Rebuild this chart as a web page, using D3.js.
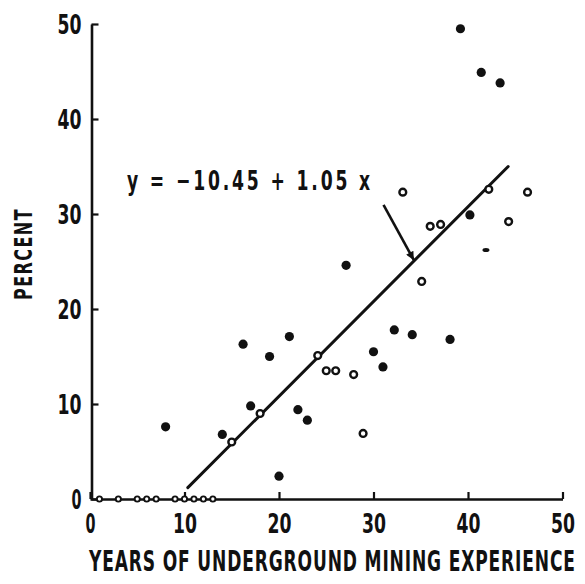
<!DOCTYPE html>
<html><head><meta charset="utf-8">
<script src="https://cdn.jsdelivr.net/npm/d3@7"></script>
<style>
html,body{margin:0;padding:0;background:#fff;}
svg{display:block;}
text{font-family:"Liberation Sans Narrow","DejaVu Sans Condensed",sans-serif;font-weight:bold;fill:#111;}
</style></head>
<body>
<script>
// ---- data ----
const xTicks = [0, 10, 20, 30, 40, 50];
const yTicks = [0, 10, 20, 30, 40, 50];
const zeroYears = [1, 3, 5, 6, 7, 9, 10, 11, 12, 13];
const zeroPercent = [0, 0, 0, 0, 0, 0, 0, 0, 0, 0];
const filledYears = [8, 14, 17, 20, 22, 23, 16.2, 21.1, 19, 27.1, 30, 31, 32.2, 34.1, 38.1, 40.2, 39.2, 41.4, 43.4];
const filledPercent = [7.6, 6.8, 9.8, 2.4, 9.4, 8.3, 16.3, 17.1, 15.0, 24.6, 15.5, 13.9, 17.8, 17.3, 16.8, 29.9, 49.5, 44.9, 43.8];
const openYears = [15, 18, 24.1, 25, 26, 27.9, 28.9, 33.1, 35.1, 36, 37.1, 42.2, 44.3, 46.3];
const openPercent = [6.0, 9.0, 15.1, 13.5, 13.5, 13.1, 6.9, 32.3, 22.9, 28.7, 28.9, 32.6, 29.2, 32.3];
const minorYears = [41.9];
const minorPercent = [26.2];
const fitYears = [10.35, 44.25];
const fitPercent = [1.2, 35.0];
const arrowYears = [31.06, 34.26];
const arrowPercent = [30.95, 25.16];
const equationText = "y = \u221210.45 + 1.05 x";
const xTitle = "YEARS OF UNDERGROUND MINING EXPERIENCE";
const yTitle = "PERCENT";

// ---- chart ----
const W = 585, H = 584;
const svg = d3.select("body").append("svg").attr("width", W).attr("height", H);
const x = d3.scaleLinear().domain([0, 50]).range([90, 562.5]);
const y = d3.scaleLinear().domain([0, 50]).range([499, 24]);
const labelWidth = s => s.length === 1 ? 10 : 24;

// x axis
const gx = svg.append("g").attr("transform", `translate(0,${y(0)})`)
  .call(d3.axisBottom(x).tickValues(xTicks).tickSizeInner(-7).tickSizeOuter(0).tickPadding(0));
gx.select(".domain").attr("stroke", "#111").attr("stroke-width", 2.6);
gx.selectAll(".tick line").attr("stroke", "#111").attr("stroke-width", 2.2);
gx.selectAll(".tick text").attr("font-size", 26).attr("y", 34).attr("dy", 0)
  .attr("font-family", null)
  .attr("textLength", d => labelWidth(String(d))).attr("lengthAdjust", "spacingAndGlyphs");

// y axis
const gy = svg.append("g").attr("transform", `translate(${x(0) + 1.5},0)`)
  .call(d3.axisLeft(y).tickValues(yTicks).tickSizeInner(-7).tickSizeOuter(0).tickPadding(0));
gy.select(".domain").attr("stroke", "#111").attr("stroke-width", 2.6);
gy.selectAll(".tick line").attr("stroke", "#111").attr("stroke-width", 2.2);
gy.selectAll(".tick text").attr("font-size", 26).attr("x", -10).attr("dy", "0.36em")
  .attr("font-family", null)
  .attr("textLength", d => labelWidth(String(d))).attr("lengthAdjust", "spacingAndGlyphs");

// axis titles
svg.append("text").attr("transform", "translate(89,571) scale(1,1.45)")
  .attr("font-size", 19)
  .attr("textLength", 486).attr("lengthAdjust", "spacing").text(xTitle);
svg.append("text").attr("transform", "translate(32,254) rotate(-90)")
  .attr("text-anchor", "middle").attr("font-size", 25).attr("letter-spacing", 2)
  .attr("textLength", 92).attr("lengthAdjust", "spacingAndGlyphs").text(yTitle);

// regression line
svg.append("line")
  .attr("x1", x(fitYears[0])).attr("y1", y(fitPercent[0]))
  .attr("x2", x(fitYears[1])).attr("y2", y(fitPercent[1]))
  .attr("stroke", "#111").attr("stroke-width", 3).attr("stroke-linecap", "round");

// equation + arrow
svg.append("text").attr("x", 127).attr("y", 190).attr("font-size", 27)
  .attr("letter-spacing", 4)
  .attr("textLength", 246).attr("lengthAdjust", "spacingAndGlyphs").text(equationText);
svg.append("defs").append("marker").attr("id", "ah")
  .attr("viewBox", "0 0 10 10").attr("refX", 10).attr("refY", 5)
  .attr("markerWidth", 6).attr("markerHeight", 3.2).attr("orient", "auto")
  .attr("markerUnits", "strokeWidth")
  .append("path").attr("d", "M0,0 L10,5 L0,10 Z").attr("fill", "#111");
svg.append("line")
  .attr("x1", x(arrowYears[0])).attr("y1", y(arrowPercent[0]))
  .attr("x2", x(arrowYears[1])).attr("y2", y(arrowPercent[1]))
  .attr("stroke", "#111").attr("stroke-width", 2.6).attr("marker-end", "url(#ah)");

// points
const zeroPts = zeroYears.map((d, i) => [d, zeroPercent[i]]);
svg.append("g").selectAll("circle").data(zeroPts).join("circle")
  .attr("cx", d => x(d[0])).attr("cy", d => y(d[1]))
  .attr("r", 2.6).attr("fill", "#fff").attr("stroke", "#111").attr("stroke-width", 1.9);

const filledPts = filledYears.map((d, i) => [d, filledPercent[i]]);
svg.append("g").selectAll("circle").data(filledPts).join("circle")
  .attr("cx", d => x(d[0])).attr("cy", d => y(d[1]))
  .attr("r", 4.6).attr("fill", "#111");

const openPts = openYears.map((d, i) => [d, openPercent[i]]);
svg.append("g").selectAll("circle").data(openPts).join("circle")
  .attr("cx", d => x(d[0])).attr("cy", d => y(d[1]))
  .attr("r", 3.4).attr("fill", "#fff").attr("stroke", "#111").attr("stroke-width", 2.4);

const minorPts = minorYears.map((d, i) => [d, minorPercent[i]]);
svg.append("g").selectAll("ellipse").data(minorPts).join("ellipse")
  .attr("cx", d => x(d[0])).attr("cy", d => y(d[1]))
  .attr("rx", 3.5).attr("ry", 2).attr("fill", "#111");
</script>
</body></html>
